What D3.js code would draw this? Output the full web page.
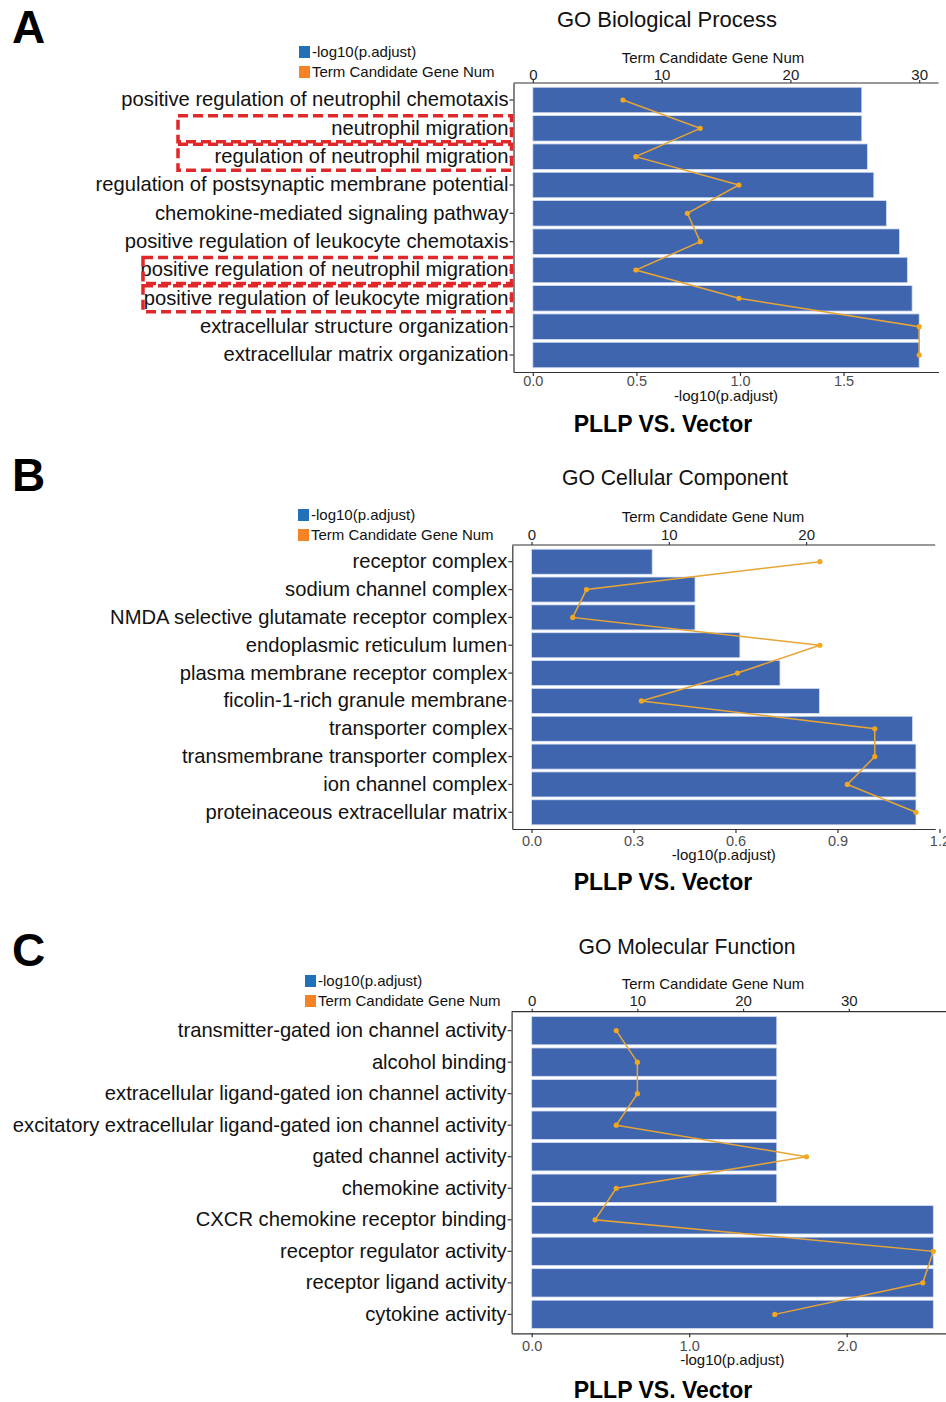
<!DOCTYPE html>
<html>
<head>
<meta charset="utf-8">
<script src="https://cdn.jsdelivr.net/npm/d3@7"></script>
<style>
  body { margin: 0; background: #fff; }
  svg { display: block; font-family: "Liberation Sans", Arial, sans-serif; }
</style>
</head>
<body>
<div id="chart"></div>
<script>
// ---- data ----
const bpTerms = [
    "positive regulation of neutrophil chemotaxis",
    "neutrophil migration",
    "regulation of neutrophil migration",
    "regulation of postsynaptic membrane potential",
    "chemokine-mediated signaling pathway",
    "positive regulation of leukocyte chemotaxis",
    "positive regulation of neutrophil migration",
    "positive regulation of leukocyte migration",
    "extracellular structure organization",
    "extracellular matrix organization"
];
const bpPadj = [1.588, 1.588, 1.615, 1.646, 1.707, 1.770, 1.808, 1.831, 1.865, 1.865];
const bpGenes = [7, 13, 8, 16, 12, 13, 8, 16, 30, 30];

const ccTerms = [
    "receptor complex",
    "sodium channel complex",
    "NMDA selective glutamate receptor complex",
    "endoplasmic reticulum lumen",
    "plasma membrane receptor complex",
    "ficolin-1-rich granule membrane",
    "transporter complex",
    "transmembrane transporter complex",
    "ion channel complex",
    "proteinaceous extracellular matrix"
];
const ccPadj = [0.355, 0.481, 0.481, 0.613, 0.731, 0.847, 1.121, 1.131, 1.131, 1.131];
const ccGenes = [21, 4, 3, 21, 15, 8, 25, 25, 23, 28];

const mfTerms = [
    "transmitter-gated ion channel activity",
    "alcohol binding",
    "extracellular ligand-gated ion channel activity",
    "excitatory extracellular ligand-gated ion channel activity",
    "gated channel activity",
    "chemokine activity",
    "CXCR chemokine receptor binding",
    "receptor regulator activity",
    "receptor ligand activity",
    "cytokine activity"
];
const mfPadj = [1.556, 1.556, 1.556, 1.556, 1.556, 1.556, 2.55, 2.55, 2.55, 2.55];
const mfGenes = [8, 10, 10, 8, 26, 8, 6, 38, 37, 23];

const bpPadjTicks = [0, 0.5, 1.0, 1.5];
const bpGeneTicks = [0, 10, 20, 30];
const ccPadjTicks = [0, 0.3, 0.6, 0.9, 1.2];
const ccGeneTicks = [0, 10, 20];
const mfPadjTicks = [0, 1, 2];
const mfGeneTicks = [0, 10, 20, 30];

const panelLetters = ["A", "B", "C"];
const panelTitles = ["GO Biological Process", "GO Cellular Component", "GO Molecular Function"];
const comparison = "PLLP VS. Vector";
const legendLabels = ["-log10(p.adjust)", "Term Candidate Gene Num"];
const highlighted = ["neutrophil migration", "regulation of neutrophil migration",
    "positive regulation of neutrophil migration", "positive regulation of leukocyte migration"];

// ---- layout ----
const width = 946, height = 1402;
const barColor = "#4065AF";
const lineColor = "#E6A535";
const pointColor = "#F2A71E";
const legendColors = ["#2270B8", "#F58224"];

const layouts = [
    { letterY: 43, titleX: 667, titleY: 27, titleW: 220, legX: 299, legY: 46, top: 83, bottom: 372,
      left: 513.5, right: 938.5, topGap: 20, topPad: 0.5, botPad: -0.5, botGap: 28.5, compY: 432,
      boxLeft: [178, 178, 143, 143] },
    { letterY: 491, titleX: 675, titleY: 485, titleW: 226, legX: 298, legY: 509, top: 545, bottom: 829,
      left: 512.3, right: 935.2, topGap: 23, topPad: 2, botPad: 2.5, botGap: 31, compY: 890 },
    { letterY: 966, titleX: 687, titleY: 954, titleW: 217, legX: 305, legY: 975, top: 1011.7, bottom: 1333.3,
      left: 511.6, right: 953.4, topGap: 23, topPad: 2.5, botPad: 3, botGap: 32, compY: 1398 }
];

const panels = [
    { terms: bpTerms, padj: bpPadj, genes: bpGenes, padjTicks: bpPadjTicks, geneTicks: bpGeneTicks },
    { terms: ccTerms, padj: ccPadj, genes: ccGenes, padjTicks: ccPadjTicks, geneTicks: ccGeneTicks },
    { terms: mfTerms, padj: mfPadj, genes: mfGenes, padjTicks: mfPadjTicks, geneTicks: mfGeneTicks }
];

const svg = d3.select("#chart").append("svg")
    .attr("width", width)
    .attr("height", height);

svg.append("rect").attr("width", width).attr("height", height).attr("fill", "#fff");

panels.forEach((p, i) => drawPanel(p, layouts[i], i));

function drawPanel(p, L, i) {
    const g = svg.append("g");
    const maxP = d3.max(p.padj);
    const maxG = d3.max(p.genes);

    // ggplot-style 5% expansion on the continuous axis
    const x = d3.scaleLinear()
        .domain([-0.05 * maxP, 1.05 * maxP])
        .range([L.left, L.right]);

    // gene counts are rescaled so the largest count lands on the longest bar
    const xg = d3.scaleLinear()
        .domain([0, maxG])
        .range([x(0), x(maxP)]);

    const y = d3.scaleBand()
        .domain(p.terms)
        .range([L.top, L.bottom])
        .paddingInner(0.1)
        .paddingOuter(0.15);

    const rows = p.terms.map((t, k) => ({ term: t, padj: p.padj[k], genes: p.genes[k] }));

    // panel letter and title
    g.append("text")
        .attr("x", 12).attr("y", L.letterY)
        .attr("font-size", 46).attr("font-weight", "bold")
        .text(panelLetters[i]);

    g.append("text")
        .attr("x", L.titleX).attr("y", L.titleY)
        .attr("text-anchor", "middle")
        .attr("font-size", 22).attr("fill", "#111")
        .attr("textLength", L.titleW).attr("lengthAdjust", "spacingAndGlyphs")
        .text(panelTitles[i]);

    // legend
    const leg = g.append("g").attr("transform", `translate(${L.legX},${L.legY})`);
    legendLabels.forEach((lab, k) => {
        leg.append("rect")
            .attr("x", 0).attr("y", k * 20)
            .attr("width", 11).attr("height", 12)
            .attr("fill", legendColors[k]);
        leg.append("text")
            .attr("x", 13).attr("y", k * 20 + 10.5)
            .attr("font-size", 15).attr("fill", "#111")
            .text(lab);
    });

    // bars
    g.selectAll("rect.bar")
        .data(rows)
        .join("rect")
        .attr("class", "bar")
        .attr("x", x(0))
        .attr("y", d => y(d.term))
        .attr("width", d => x(d.padj) - x(0))
        .attr("height", y.bandwidth())
        .attr("fill", barColor)
        .attr("stroke", "#d6e0f2")
        .attr("stroke-width", 0.8);

    // gene count line
    const line = d3.line()
        .x(d => xg(d.genes))
        .y(d => y(d.term) + y.bandwidth() / 2);

    g.append("path")
        .datum(rows)
        .attr("d", line)
        .attr("fill", "none")
        .attr("stroke", lineColor)
        .attr("stroke-width", 1.5);

    g.selectAll("circle.pt")
        .data(rows)
        .join("circle")
        .attr("class", "pt")
        .attr("cx", d => xg(d.genes))
        .attr("cy", d => y(d.term) + y.bandwidth() / 2)
        .attr("r", 2.6)
        .attr("fill", pointColor);

    // left axis with term labels
    const yAxis = g.append("g")
        .attr("transform", `translate(${L.left},0)`)
        .call(d3.axisLeft(y).tickSize(4).tickSizeOuter(0).tickPadding(1));
    yAxis.selectAll("text").attr("font-size", 20.2).attr("fill", "#111").attr("font-family", null);

    // bottom axis
    const xAxis = g.append("g")
        .attr("transform", `translate(0,${L.bottom})`)
        .call(d3.axisBottom(x).tickValues(p.padjTicks)
            .tickFormat(d3.format(".1f")).tickSize(4).tickSizeOuter(0).tickPadding(L.botPad));
    xAxis.selectAll("text").attr("font-size", 14.5).attr("fill", "#4d4d4d").attr("font-family", null);

    // top axis for gene counts
    const gAxis = g.append("g")
        .attr("transform", `translate(0,${L.top})`)
        .call(d3.axisTop(xg).tickValues(p.geneTicks).tickSize(3).tickPadding(L.topPad));
    gAxis.select(".domain").remove();
    gAxis.selectAll("text").attr("font-size", 15).attr("fill", "#222").attr("font-family", null);
    g.append("line")
        .attr("class", "toprule")
        .attr("x1", L.left).attr("x2", L.right)
        .attr("y1", L.top).attr("y2", L.top);

    [yAxis, xAxis, gAxis].forEach(a => {
        a.selectAll(".domain, line").attr("stroke", "#333").attr("stroke-width", 1.2);
    });
    g.select("line.toprule").attr("stroke", "#333").attr("stroke-width", 1.2);

    g.append("text")
        .attr("x", 713).attr("y", L.top - L.topGap)
        .attr("text-anchor", "middle")
        .attr("font-size", 15).attr("fill", "#111")
        .text(legendLabels[1]);

    g.append("text")
        .attr("x", (L.left + Math.min(L.right, width + 7)) / 2).attr("y", L.bottom + L.botGap)
        .attr("text-anchor", "middle")
        .attr("font-size", 15).attr("fill", "#111")
        .text(legendLabels[0]);

    g.append("text")
        .attr("x", 663).attr("y", L.compY)
        .attr("text-anchor", "middle")
        .attr("font-size", 23).attr("font-weight", "bold")
        .text(comparison);

    // red dashed boxes around the highlighted terms (panel A only)
    if (L.boxLeft) {
        const hl = p.terms.filter(t => highlighted.includes(t));
        g.selectAll("rect.hl")
            .data(hl)
            .join("rect")
            .attr("class", "hl")
            .attr("x", (d, k) => L.boxLeft[k])
            .attr("y", d => y(d) + y.bandwidth() / 2 - 12.5)
            .attr("width", (d, k) => L.left - 2 - L.boxLeft[k])
            .attr("height", 26)
            .attr("fill", "none")
            .attr("stroke", "#E0282A")
            .attr("stroke-width", 3.5)
            .attr("stroke-dasharray", "10,5");
    }
}
</script>
</body>
</html>
